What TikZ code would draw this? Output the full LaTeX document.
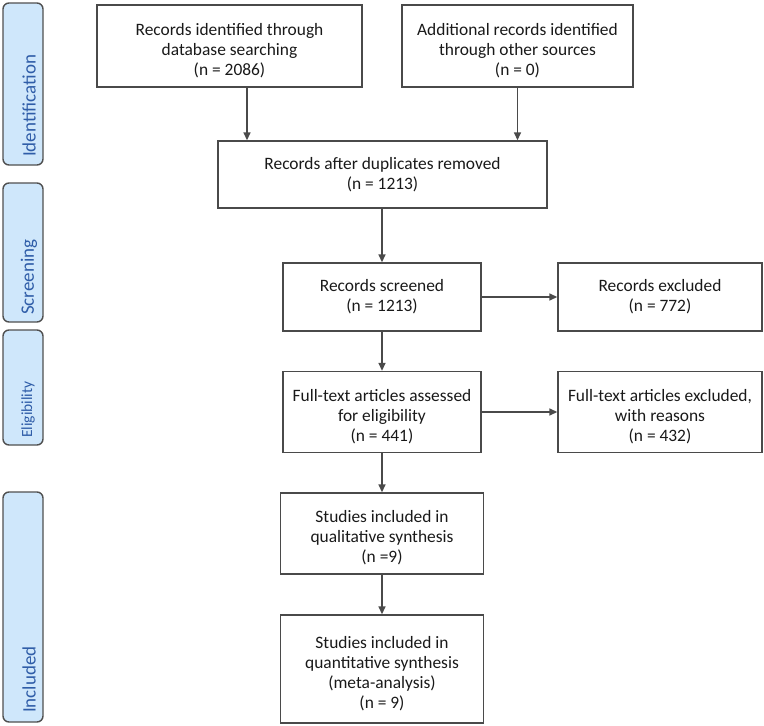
\documentclass[tikz,border=0pt]{standalone}
\usepackage{fontspec}
\setmainfont{Carlito}
\usetikzlibrary{arrows.meta,calc}
\definecolor{sidefill}{HTML}{CFE7FB}
\definecolor{sidetext}{HTML}{2F5DA8}
\definecolor{sideline}{HTML}{505050}
\definecolor{boxline}{HTML}{4A4A4A}
\newcommand{\lowstrut}{\rule{0pt}{21pt}}
\tikzset{
  flowbox/.style={draw=boxline, line width=1.4pt, rectangle, align=center, inner sep=2pt,
    font=\fontsize{17.4}{20}\selectfont, text=black!90},
  sidebox/.style={draw=sideline, fill=sidefill, line width=1.4pt, rounded corners=6pt, rectangle, minimum width=40pt, inner sep=0pt},
  sidelabel/.style={rotate=90, anchor=west, text=sidetext, font=\fontsize{19}{21}\selectfont, inner sep=0pt},
  arr/.style={draw=boxline, line width=1.5pt, -{Triangle[length=8pt,width=7pt]}}
}
\begin{document}
\begin{tikzpicture}[x=1pt,y=-1pt]
\useasboundingbox (0,0) rectangle (764,726);
% side labels
\node[sidebox, minimum height=162pt] (sid) at (23,84) {};
\node[sidebox, minimum height=139pt] (sscr) at (23,252.5) {};
\node[sidebox, minimum height=115pt] (selig) at (23,387.5) {};
\node[sidebox, minimum height=230pt] (sinc) at (23,607) {};
\node[sidelabel] (tid) at (29,157) {Identification};
\node[sidelabel] (tscr) at (29,315) {Screening};
\node[sidelabel, font=\fontsize{15.5}{17}\selectfont] (telig) at (28,438) {Eligibility};
\node[sidelabel] (tinc) at (29,713) {Included};
% boxes
\node[flowbox, minimum width=265pt, minimum height=82pt] (b1) at (229.5,46)
  {\lowstrut Records identified through\\database searching\\(n = 2086)};
\node[flowbox, minimum width=231pt, minimum height=82pt] (b2) at (517.5,46)
  {\lowstrut Additional records identified\\through other sources\\(n = 0)};
\node[flowbox, minimum width=329pt, minimum height=67pt] (b3) at (382.5,174.5)
  {Records after duplicates removed\\(n = 1213)};
\node[flowbox, minimum width=198pt, minimum height=68pt] (b4) at (382,297)
  {Records screened\\(n = 1213)};
\node[flowbox, minimum width=204pt, minimum height=68pt] (b5) at (660,297)
  {Records excluded\\(n = 772)};
\node[flowbox, minimum width=198pt, minimum height=81pt] (b6) at (382,412)
  {\lowstrut Full-text articles assessed\\for eligibility\\(n = 441)};
\node[flowbox, minimum width=204pt, minimum height=81pt] (b7) at (660,412)
  {\lowstrut Full-text articles excluded,\\with reasons\\(n = 432)};
\node[flowbox, minimum width=203pt, minimum height=81pt] (b8) at (382,533.5)
  {\lowstrut Studies included in\\qualitative synthesis\\(n =9)};
\node[flowbox, minimum width=203pt, minimum height=108pt] (b9) at (382,669)
  {\lowstrut Studies included in\\quantitative synthesis\\(meta-analysis)\\(n = 9)};
% arrows
\coordinate (a1) at (247,0);
\draw[arr] (b1.south -| a1) -- (b3.north -| a1);
\draw[arr] (b2.south) -- (b3.north -| b2.south);
\draw[arr] (b3.south -| b4.north) -- (b4.north);
\draw[arr] (b4.east) -- (b5.west);
\draw[arr] (b4.south) -- (b6.north);
\draw[arr] (b6.east) -- (b7.west);
\draw[arr] (b6.south) -- (b8.north -| b6.south);
\draw[arr] (b8.south) -- (b9.north);
\end{tikzpicture}
\end{document}
